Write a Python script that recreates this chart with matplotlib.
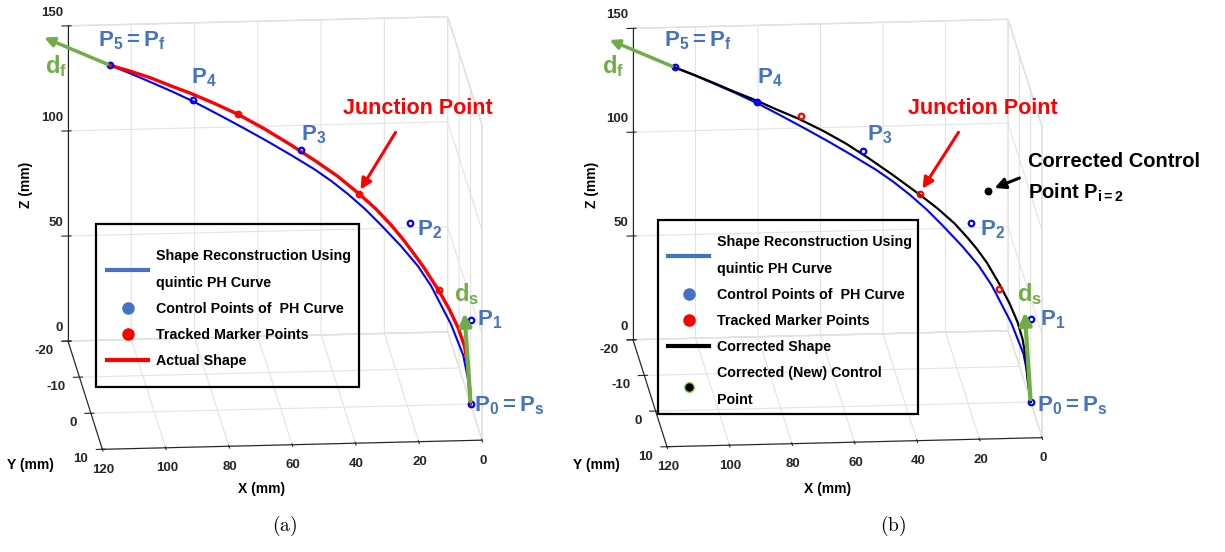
import numpy as np
import matplotlib
matplotlib.use('Agg')
import matplotlib.pyplot as plt
from matplotlib.lines import Line2D
from matplotlib.patches import FancyArrowPatch, Rectangle
from matplotlib.transforms import ScaledTranslation
from mpl_toolkits.mplot3d import proj3d

FONT = 'Liberation Sans'
plt.rcParams['font.family'] = [FONT, 'DejaVu Sans']
plt.rcParams['font.weight'] = 'bold'
plt.rcParams['axes.unicode_minus'] = False
plt.rcParams['mathtext.fontset'] = 'custom'
plt.rcParams['mathtext.rm'] = FONT + ':bold'
plt.rcParams['mathtext.bf'] = FONT + ':bold'
plt.rcParams['mathtext.it'] = FONT + ':bold'
plt.rcParams['grid.color'] = '#e3e3e3'
plt.rcParams['grid.linewidth'] = 0.8

# ---- data (mm) ----
x_ticks = [0, 20, 40, 60, 80, 100, 120]
y_ticks = [-20, -10, 0, 10]
z_ticks = [0, 50, 100, 150]

# control points P0..P5 of the quintic PH curve
ctrl_x = [0.0, 0.0, 18.3, 51.3, 83.8, 109.0]
ctrl_y = [0.0, 0.0, -2.3, -6.4, -10.5, -13.6]
ctrl_z = [0.0, 40.0, 82.9, 111.9, 129.5, 141.8]

# shape reconstructed with the PH curve (blue)
ph_x = [0.0, 0.7, 2.2, 5.9, 11.9, 15.9, 21.0, 27.1, 31.9, 37.1, 42.2, 47.4, 54.4, 61.7,
        68.9, 76.5, 83.8, 90.2, 96.2, 102.6, 109.0]
ph_y = [0.0, -0.1, -0.3, -0.7, -1.5, -2.0, -2.6, -3.4, -4.0, -4.6, -5.3, -5.9, -6.8, -7.7,
        -8.6, -9.6, -10.5, -11.3, -12.0, -12.8, -13.6]
ph_z = [0.0, 11.2, 22.8, 36.9, 54.0, 62.8, 71.4, 80.4, 87.1, 93.4, 98.7, 103.5, 108.9, 114.3,
        119.3, 124.3, 129.0, 132.6, 135.7, 138.9, 141.8]

# actual shape (red)
act_x = [0.0, 0.4, 1.0, 1.9, 3.7, 6.5, 9.5, 14.0, 17.4, 20.4, 24.0, 28.6, 33.8, 40.4,
         47.4, 54.4, 62.6, 70.4, 77.7, 84.7, 90.8, 96.8, 102.9, 109.0]
act_y = [0.0, -0.05, -0.1, -0.2, -0.5, -0.8, -1.2, -1.8, -2.2, -2.6, -3.0, -3.6, -4.2, -5.1,
         -5.9, -6.8, -7.8, -8.8, -9.7, -10.6, -11.3, -12.1, -12.9, -13.6]
act_z = [0.0, 10.3, 19.7, 27.6, 35.4, 44.2, 52.0, 62.2, 69.0, 74.7, 80.9, 87.7, 94.2, 101.4,
         107.8, 113.7, 120.1, 125.4, 129.4, 132.8, 135.4, 138.0, 140.0, 141.8]

# corrected shape (black)
cor_x = [0.0, 1.0, 1.6, 2.5, 4.0, 6.5, 9.5, 13.4, 16.5, 19.5, 23.4, 28.6, 34.1, 42.2,
         49.8, 56.5, 63.5, 71.0, 77.7, 84.4, 90.8, 96.8, 102.9, 109.0]
cor_y = [0.0, -0.1, -0.2, -0.3, -0.5, -0.8, -1.2, -1.7, -2.1, -2.4, -2.9, -3.6, -4.3, -5.3,
         -6.2, -7.1, -7.9, -8.9, -9.7, -10.6, -11.3, -12.1, -12.9, -13.6]
cor_z = [0.0, 11.1, 22.0, 29.9, 37.7, 46.4, 54.9, 64.7, 70.8, 76.0, 82.0, 88.2, 93.9, 101.8,
         108.8, 114.3, 119.3, 123.7, 127.0, 130.4, 133.4, 136.3, 139.1, 141.8]

# tracked marker points (red dots)
mk_x = [70.4, 33.8, 9.6]
mk_y = [-8.8, -4.2, -1.2]
mk_z = [125.4, 94.2, 52.5]

# corrected control point P_i=2
new_x = [13.1]
new_y = [-1.6]
new_z = [99.5]

# tangent arrows d_s (at P0) and d_f (at P5): tips
ds_tip = (1.9, -0.2, 44.3)
df_tip = (129.7, -16.2, 151.8)

BLUE_TXT = '#4472C4'
GREEN = '#70AD47'
W, H = 1225, 552


class Arrow3D(FancyArrowPatch):
    def __init__(self, xs, ys, zs, **kw):
        super().__init__((0, 0), (0, 0), **kw)
        self._verts3d = xs, ys, zs

    def do_3d_projection(self, renderer=None):
        xs, ys, zs = proj3d.proj_transform(*self._verts3d, self.axes.M)
        self.set_positions((xs[0], ys[0]), (xs[1], ys[1]))
        return np.min(zs)


fig = plt.figure(figsize=(12.25, 5.52), dpi=100)


def ftxt(x, y, s, **kw):
    kw.setdefault('va', 'center')
    kw.setdefault('ha', 'left')
    fig.text(x / W, 1 - y / H, s, **kw)


def farrow(x0, y0, x1, y1, color):
    fig.add_artist(FancyArrowPatch((x0 / W, 1 - y0 / H), (x1 / W, 1 - y1 / H),
                                   transform=fig.transFigure, arrowstyle='-|>',
                                   mutation_scale=16, lw=2.2, color=color))


def fbox(x0, y0, x1, y1):
    fig.add_artist(Rectangle((x0 / W, 1 - y1 / H), (x1 - x0) / W, (y1 - y0) / H,
                             transform=fig.transFigure, fill=False, ec='black', lw=1.6))


def make_panel(rect):
    ax = fig.add_axes(rect, projection='3d')
    ax.set_proj_type('ortho')
    ax.view_init(elev=16, azim=85)
    ax.set_box_aspect((380, 393, 327))
    ax.set_xlim(0, 120)
    ax.set_ylim(-20, 10)
    ax.set_zlim(0, 150)
    ax.set_xticks(x_ticks)
    ax.set_yticks(y_ticks)
    ax.set_zticks(z_ticks)
    ax.set_yticklabels([])
    ax.set_zticklabels([])
    for a in (ax.xaxis, ax.yaxis, ax.zaxis):
        a.set_pane_color((1, 1, 1, 1))
        a.pane.set_edgecolor('#d8d8d8')
        a.line.set_color('#222222')
    ax.tick_params(labelsize=9.5, colors='#262626', pad=0)
    ax.computed_zorder = False
    return ax


def side_ticks(ax):
    # MATLAB-like y and z tick labels, set off the left edges
    oz = ax.transData + ScaledTranslation(-0.05, 0.13, fig.dpi_scale_trans)
    for z in z_ticks:
        px, py, _ = proj3d.proj_transform(120, -20, z, ax.M)
        ax.text2D(px, py, str(z), transform=oz, ha='right', va='center',
                  fontsize=9.5, color='#262626')
    oy = ax.transData + ScaledTranslation(-0.14, -0.10, fig.dpi_scale_trans)
    for y in y_ticks:
        px, py, _ = proj3d.proj_transform(120, y, 0, ax.M)
        ax.text2D(px, py, str(y), transform=oy, ha='right', va='center',
                  fontsize=9.5, color='#262626')


def fit_box(ax, ta, tb):
    ca, cb = (120, -20, 150), (0, 10, 0)
    ta = np.array([ta[0], H - ta[1]], float)
    tb = np.array([tb[0], H - tb[1]], float)
    for _ in range(3):
        fig.canvas.draw()
        pa, pb = [ax.transData.transform(proj3d.proj_transform(*c, ax.M)[:2]) for c in (ca, cb)]
        s = (tb[0] - ta[0]) / (pb[0] - pa[0])
        bb = ax.get_position(original=True)
        x0, y0, w, h = bb.x0 * W, bb.y0 * H, bb.width * W, bb.height * H
        c = np.array([x0 + w / 2, y0 + h / 2])
        shift = ((ta - (c + s * (pa - c))) + (tb - (c + s * (pb - c)))) / 2
        ax.set_position([(c[0] + s * (x0 - c[0]) + shift[0]) / W,
                         (c[1] + s * (y0 - c[1]) + shift[1]) / H, s * w / W, s * h / H])
    fig.canvas.draw()
    side_ticks(ax)


def common(ax):
    ax.plot(ph_x, ph_y, ph_z, color='blue', lw=1.5, zorder=2)
    ax.plot(ctrl_x, ctrl_y, ctrl_z, ls='none', marker='o', ms=4, mfc='none',
            mec='blue', mew=1.6, zorder=4)
    ax.add_artist(Arrow3D([ctrl_x[0], ds_tip[0]], [ctrl_y[0], ds_tip[1]], [ctrl_z[0], ds_tip[2]],
                          arrowstyle='-|>', mutation_scale=18, lw=3, color=GREEN, zorder=5))
    ax.add_artist(Arrow3D([ctrl_x[5], df_tip[0]], [ctrl_y[5], df_tip[1]], [ctrl_z[5], df_tip[2]],
                          arrowstyle='-|>', mutation_scale=14, lw=2.5, color=GREEN, zorder=5))


LEG_FS = 10.3
leg_kw = dict(loc='upper left', bbox_transform=fig.transFigure, frameon=False,
              borderaxespad=0, borderpad=0, handlelength=2.9, handletextpad=0.5,
              labelspacing=0.85, prop={'family': FONT, 'weight': 'bold', 'size': LEG_FS})

# ---------------- panel (a) ----------------
ax1 = make_panel([0.0, 0.1, 0.42, 0.93])
common(ax1)
ax1.plot(act_x, act_y, act_z, color='red', lw=2.4, zorder=3)
ax1.plot(mk_x, mk_y, mk_z, ls='none', marker='o', ms=4, mfc='none', mec='red', mew=1.6, zorder=4)
h1 = [Line2D([], [], color=BLUE_TXT, lw=3),
      Line2D([], [], ls='none', marker='o', ms=8, color=BLUE_TXT),
      Line2D([], [], ls='none', marker='o', ms=8, color='red'),
      Line2D([], [], color='red', lw=3)]
l1 = ['Shape Reconstruction Using\nquintic PH Curve', 'Control Points of  PH Curve',
      'Tracked Marker Points', 'Actual Shape']
leg = ax1.legend(h1, l1, bbox_to_anchor=(107 / W, 1 - 249 / H), **leg_kw)
leg.get_texts()[0].set_linespacing(2.15)
fbox(96, 224, 359, 387)

# ---------------- panel (b) ----------------
ax2 = make_panel([0.46, 0.1, 0.42, 0.93])
common(ax2)
ax2.plot(cor_x, cor_y, cor_z, color='black', lw=1.6, zorder=3)
ax2.plot(mk_x, mk_y, mk_z, ls='none', marker='o', ms=4, mfc='none', mec='red', mew=1.6, zorder=4)
ax2.plot(new_x, new_y, new_z, ls='none', marker='o', ms=4.5, mfc='black', mec='black', mew=1.2, zorder=4)
h2 = [Line2D([], [], color=BLUE_TXT, lw=3),
      Line2D([], [], ls='none', marker='o', ms=8, color=BLUE_TXT),
      Line2D([], [], ls='none', marker='o', ms=8, color='red'),
      Line2D([], [], color='black', lw=3),
      Line2D([], [], ls='none', marker='o', ms=7, mfc='black', mec='#92D050', mew=1)]
l2 = ['Shape Reconstruction Using\nquintic PH Curve', 'Control Points of  PH Curve',
      'Tracked Marker Points', 'Corrected Shape', 'Corrected (New) Control\nPoint']
leg = ax2.legend(h2, l2, bbox_to_anchor=(668 / W, 1 - 235 / H), **leg_kw)
leg.get_texts()[0].set_linespacing(2.15)
leg.get_texts()[4].set_linespacing(2.15)
fbox(658, 220, 918, 414)

fit_box(ax1, (68, 27), (482, 439))
fit_box(ax2, (633, 27), (1042, 439))

# ---------------- annotations ----------------
PS = 16
for dx, dxr in ((0, 0), (566, 563)):
    ftxt(98 + dx, 41, r'$\mathregular{P_5 = P_f}$', color=BLUE_TXT, fontsize=PS)
    ftxt(45 + dxr - 6 * (dx > 0), 66, r'$\mathregular{d_f}$', color=GREEN, fontsize=PS + 1)
    ftxt(191 + dx, 78, r'$\mathregular{P_4}$', color=BLUE_TXT, fontsize=PS)
    ftxt(301 + dx, 135, r'$\mathregular{P_3}$', color=BLUE_TXT, fontsize=PS)
    ftxt(417 + dxr, 230, r'$\mathregular{P_2}$', color=BLUE_TXT, fontsize=PS)
    ftxt(477 + dxr, 320, r'$\mathregular{P_1}$', color=BLUE_TXT, fontsize=PS)
    ftxt(474 + dxr, 406, r'$\mathregular{P_0 = P_s}$', color=BLUE_TXT, fontsize=PS)
    ftxt(454 + dxr, 294, r'$\mathregular{d_s}$', color=GREEN, fontsize=PS + 1)
    ftxt(26 + dx, 185, 'Z (mm)', rotation=90, ha='center', fontsize=10)
    ftxt(262 + dx, 489, 'X (mm)', ha='center', fontsize=10)
    ftxt(30 + dx, 465, 'Y (mm)', ha='center', fontsize=10)

ftxt(343, 108, 'Junction Point', color='red', fontsize=15.5)
farrow(397, 130, 359, 192, 'red')
ftxt(908, 108, 'Junction Point', color='red', fontsize=15.5)
farrow(960, 130, 921, 191, 'red')
ftxt(1028, 161, 'Corrected Control', color='black', fontsize=14.5)
ftxt(1028, 193, r'Point P$\mathregular{_{i=2}}$', color='black', fontsize=14.5)
farrow(1022, 177, 992, 189, 'black')

ftxt(285, 526, r'$\mathrm{(a)}$', ha='center', fontsize=14, math_fontfamily='cm')
ftxt(893, 526, r'$\mathrm{(b)}$', ha='center', fontsize=14, math_fontfamily='cm')

fig.savefig('out.png', dpi=100)
